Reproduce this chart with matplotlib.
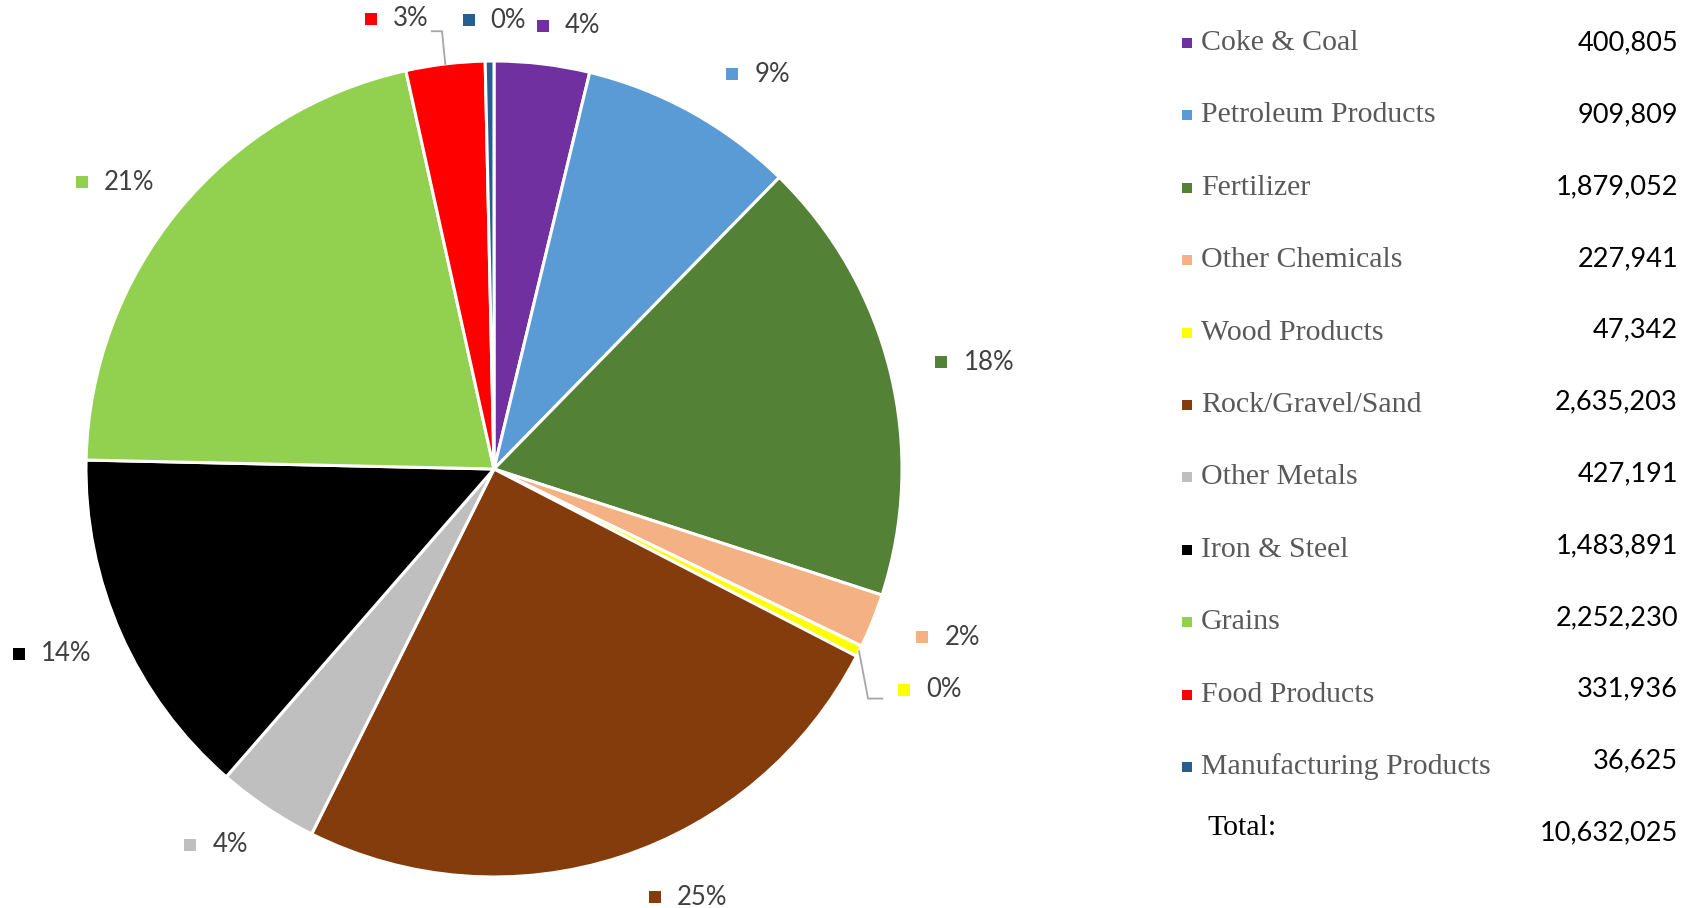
import matplotlib.pyplot as plt
import numpy as np

categories = ["Coke & Coal", "Petroleum Products", "Fertilizer", "Other Chemicals",
              "Wood Products", "Rock/Gravel/Sand", "Other Metals", "Iron & Steel",
              "Grains", "Food Products", "Manufacturing Products"]
tonnage = [400805, 909809, 1879052, 227941, 47342, 2635203, 427191, 1483891,
           2252230, 331936, 36625]
total_label = "Total:"
colors = ["#7030A0", "#5B9BD5", "#538135", "#F4B183", "#FFFF00", "#843C0C",
          "#BFBFBF", "#000000", "#92D050", "#FF0000", "#255E91"]

# label placement tweaks (degrees / radius multiples), Excel-like outside-end labels
angle_nudge = [2.4, 4.5, 1.2, -1.4, 0.5, -6.0, 3.0, 1.3, -2.5, -5.7, 0.3]
label_dist = [1.10, 1.16, 1.20, 1.18, 1.19, 1.15, 1.15, 1.18, 1.17, 1.13, 1.10]
leaders = {4: "right", 9: "left"}

W, H = 1698, 908
fig = plt.figure(figsize=(W / 100, H / 100), dpi=100)
cx, cy, R = 494, 469, 408  # pie centre / radius in pixels (y from top)
pie_w = 1060

ax = fig.add_axes([0, 0, pie_w / W, 1])
ax.pie(tonnage, colors=colors, startangle=90, counterclock=False,
       wedgeprops=dict(edgecolor="white", linewidth=2.2))
ax.set_xlim(-cx / R, (pie_w - cx) / R)
ax.set_ylim(-(H - cy) / R, cy / R)
ax.set_aspect("auto")
ax.axis("off")

total = sum(tonnage)
fracs = np.array(tonnage) / total
mids = (np.cumsum(fracs) - fracs / 2) * 360

renderer = fig.canvas.get_renderer()
for i in range(len(tonnage)):
    th = np.radians(mids[i] + angle_nudge[i])
    gx, gy = label_dist[i] * np.sin(th), label_dist[i] * np.cos(th)
    gx += 3 / R  # labels sit a touch right of the pie in the original
    t = ax.text(0, 0, f"{round(fracs[i] * 100)}%", fontsize=18.5, family="Lato",
                color="#404040", va="center", ha="left")
    tw = t.get_window_extent(renderer).width / R
    gw = 28 / R + tw
    left = gx - gw / 2
    ax.scatter(left + 6 / R, gy, marker="s", s=72, color=colors[i], linewidths=0, zorder=3)
    t.set_position((left + 28 / R, gy))

    if i in leaders:
        a = np.radians(mids[i])
        sx, sy = np.sin(a), np.cos(a)
        if leaders[i] == "left":
            ly = gy - 0.03
            xs = [sx, sx - 0.008, left + gw + 0.008]
            ys = [sy, ly, ly]
        else:
            ly = gy - 0.022
            xs = [sx, sx + 0.022, left - 0.038]
            ys = [sy, ly, ly]
        ax.plot(xs, ys, color="#A6A6A6", lw=1.3, zorder=1)

# legend table on the right
lax = fig.add_axes([0, 0, 1, 1])
lax.set_xlim(0, W)
lax.set_ylim(H, 0)
lax.axis("off")
lax.patch.set_alpha(0)

for i, (name, val) in enumerate(zip(categories, tonnage)):
    ny = 43 + i * 72.4
    vy = 43 + i * 71.8
    lax.scatter(1187, ny, marker="s", s=60, color=colors[i], linewidths=0)
    lax.text(1201, ny, name, fontsize=21.5, family="Liberation Serif",
             color="#595959", va="center", ha="left")
    lax.text(1678, vy, f"{val:,}", fontsize=19.5, family="Lato",
             color="black", va="center", ha="right")

lax.text(1207, 43 + 10 * 72.4 + 61, total_label, fontsize=21.5,
         family="Liberation Serif", color="black", va="center", ha="left")
lax.text(1678, 43 + 11 * 71.8, f"{total:,}", fontsize=19.5, family="Lato",
         color="black", va="center", ha="right")

fig.savefig("out.png", dpi=100, facecolor="white")
